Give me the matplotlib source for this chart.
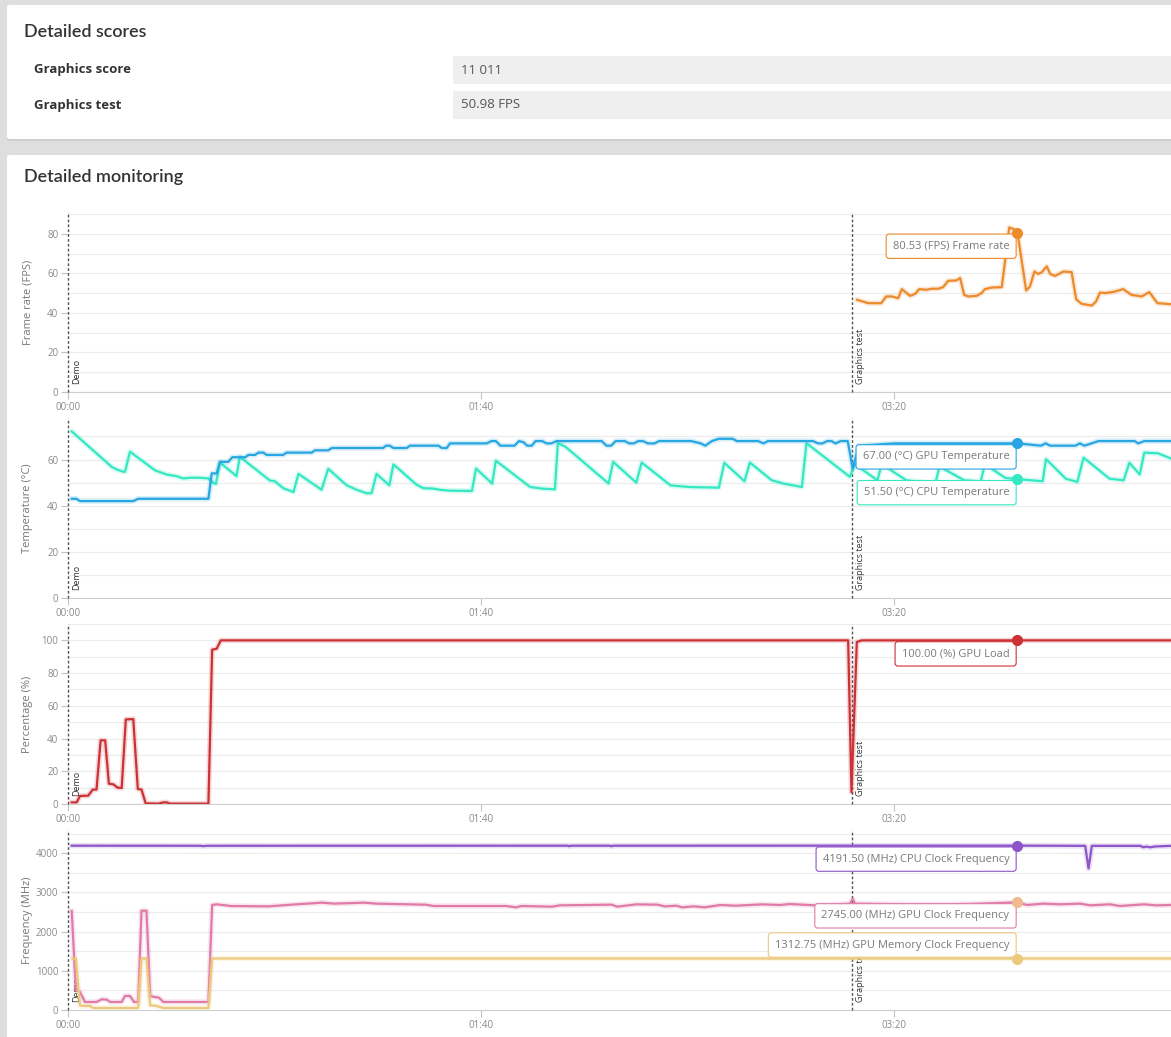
import numpy as np
import matplotlib
matplotlib.use('Agg')
import matplotlib.pyplot as plt
from matplotlib.patches import FancyBboxPatch, Rectangle
from matplotlib.ticker import FuncFormatter, MultipleLocator

plt.rcParams['font.family'] = ['Open Sans', 'DejaVu Sans']

W, H = 1171, 1037

# scores table
score_names = ['Graphics score', 'Graphics test']
score_values = ['11 011', '50.98 FPS']

# time axis in seconds
x_end = 267.07
test_starts = [0, 189.8]
test_names = ['Demo', 'Graphics test']
hover_t = 229.9

# (seconds, value)
fps_pts = [(191.1, 46.6), (193.8, 44.9), (195.4, 44.9), (196.9, 44.9), (198.1, 48.3), (199.5, 48.3),
           (201.0, 47.4), (201.9, 52.0), (203.9, 48.6), (205.1, 49.6), (206.1, 52.0), (207.9, 51.7),
           (209.1, 52.2), (210.7, 52.2), (211.9, 53.0), (213.1, 56.2), (215.1, 56.4), (216.0, 57.6),
           (217.0, 49.1), (218.0, 48.3), (220.0, 48.6), (221.2, 50.0), (222.0, 52.0), (223.6, 52.8),
           (226.1, 53.0), (227.9, 83.2), (228.9, 82.4), (229.9, 80.53), (232.0, 51.3), (232.9, 53.3),
           (234.0, 60.9), (234.9, 59.7), (235.7, 60.4), (237.0, 63.5), (237.8, 59.7), (239.0, 58.7),
           (241.0, 60.9), (243.0, 60.6), (244.1, 46.9), (245.4, 44.6), (247.9, 43.7), (248.9, 45.7),
           (249.9, 50.3), (251.1, 50.0), (253.1, 50.6), (255.5, 52.0), (257.5, 49.1), (260.0, 48.3),
           (261.8, 50.5), (263.8, 44.9), (267.1, 44.4)]

gpu_temp_pts = [(0.9, 43), (2.0, 43), (2.9, 42), (15.8, 42), (17.0, 43), (34.0, 43), (34.8, 54), (36.0, 54),
                (36.8, 59), (38.8, 59), (39.8, 61), (42.9, 61), (43.7, 62), (45.3, 62), (46.1, 63), (47.3, 63),
                (48.1, 62), (52.1, 62), (52.9, 63), (59.0, 63), (59.8, 64), (63.0, 64), (63.9, 65), (76.3, 65),
                (77.0, 66), (77.9, 66), (78.8, 65), (82.0, 65), (82.8, 66), (89.7, 66), (90.5, 65), (91.7, 65),
                (92.5, 67), (101.4, 67), (102.5, 68), (103.6, 68), (104.7, 66), (108.1, 66), (109.2, 68),
                (110.3, 67.5), (111.2, 66), (112.3, 66), (113.2, 68), (114.8, 68), (115.9, 67), (117.0, 67),
                (118.3, 68), (129.2, 68), (130.4, 66), (131.5, 66), (132.6, 68), (134.8, 68), (135.9, 67),
                (137.0, 67), (138.1, 68), (139.2, 68), (140.4, 67), (142.0, 67), (143.1, 68), (150.9, 68),
                (153.2, 67), (154.3, 66), (155.9, 68), (157.6, 69), (160.9, 69), (162.0, 68), (167.1, 68),
                (168.4, 67), (169.5, 68), (180.4, 68), (181.6, 67), (182.7, 67), (183.8, 68), (184.9, 68),
                (185.8, 67), (187.1, 68), (188.8, 68), (190.0, 56), (191.5, 66), (200.0, 67), (210.0, 67),
                (220.0, 67), (229.9, 67.0), (235.6, 66), (236.7, 67), (237.8, 66), (243.9, 66), (245.0, 67),
                (246.1, 66), (249.5, 68), (258.3, 68), (259.1, 67), (260.6, 68), (267.1, 68)]

cpu_temp_pts = [(0.9, 72.2), (10.6, 56.8), (11.8, 55.7), (13.4, 54.7), (13.8, 54.7), (15.0, 63.4), (21.1, 55.3),
                (23.9, 53.5), (26.3, 52.8), (27.9, 51.8), (29.5, 52.1), (32.0, 52.1), (34.0, 51.8), (35.2, 49.9),
                (35.8, 49.4), (36.8, 58.7), (40.8, 52.8), (41.6, 61.2), (48.9, 50.9), (50.1, 50.6), (52.1, 47.6),
                (54.6, 45.9), (55.8, 53.8), (61.4, 46.9), (63.0, 56.0), (67.5, 48.8), (69.9, 46.9), (72.3, 45.4),
                (73.5, 45.4), (74.7, 53.8), (77.8, 48.8), (78.8, 57.9), (84.4, 49.1), (86.0, 47.6), (88.5, 47.4),
                (90.1, 46.9), (92.5, 46.5), (97.8, 46.4), (98.8, 56.1), (102.7, 49.6), (103.6, 59.5),
                (111.9, 48.1), (114.8, 47.4), (117.9, 47.1), (118.6, 67.1), (120.4, 65.6), (130.9, 49.6),
                (132.0, 59.0), (137.6, 50.0), (138.9, 58.7), (145.9, 48.8), (150.4, 48.1), (157.6, 47.8),
                (158.9, 58.6), (163.8, 50.6), (165.1, 58.7), (170.4, 51.0), (173.2, 49.6), (177.7, 48.1),
                (178.8, 67.1), (189.3, 52.5), (190.5, 58), (196, 51), (197, 58), (203, 51), (210, 49.5),
                (211, 57), (217, 51), (221, 50.5), (222, 58), (227, 52), (229.9, 51.5), (236.0, 50.6),
                (236.8, 60.2), (241.6, 51.7), (244.4, 50.3), (245.9, 60.8), (252.2, 51.7), (255.6, 51.0),
                (257.0, 58.6), (259.5, 53.5), (260.6, 63.0), (263.9, 62.7), (267.0, 60.5)]

gpu_load_pts = [(0.9, 1), (2.1, 1), (2.9, 4.9), (4.9, 5.1), (6.0, 8.8), (6.9, 8.8), (7.9, 38.9), (9.0, 38.9),
                (9.9, 12.4), (11.0, 12.0), (12.0, 10.0), (13.0, 9.8), (14.0, 51.7), (15.8, 51.9), (16.9, 9.2),
                (17.8, 8.8), (18.8, 0.4), (21.9, 0.2), (23.1, 1.0), (23.9, 1.0), (24.7, 0.2), (34.0, 0.2),
                (34.9, 94.3), (36.0, 94.9), (37.0, 100), (188.9, 100), (189.7, 7.3), (191.0, 99), (192.2, 100),
                (229.9, 100), (267.1, 100)]

cpu_clk_pts = [(0.9, 4190), (32.0, 4188), (32.8, 4178), (33.6, 4188), (121.0, 4190), (121.4, 4175),
               (121.8, 4190), (131.2, 4190), (131.6, 4176), (132.0, 4190), (229.9, 4191.5), (246.3, 4186),
               (247.1, 3610), (247.9, 4186), (259.6, 4186), (260.4, 4150), (261.2, 4168), (262.0, 4148),
               (263.2, 4170), (267.1, 4186)]

gpu_clk_pts = [(0.9, 2525), (1.9, 503), (2.9, 460), (4.1, 205), (6.9, 205), (8.2, 273), (9.4, 264), (10.2, 205),
               (13.0, 205), (13.8, 358), (15.0, 358), (16.0, 205), (17.0, 205), (17.8, 2533), (19.0, 2533),
               (19.9, 358), (20.8, 333), (22.0, 316), (23.1, 205), (34.0, 205), (34.9, 2678), (36.0, 2695),
               (39.4, 2652), (48.6, 2643), (55.1, 2694), (61.6, 2737), (64.4, 2712), (71.8, 2737), (74.6, 2712),
               (86.6, 2686), (88.5, 2652), (106.1, 2652), (108.4, 2618), (109.8, 2652), (117.2, 2635),
               (119.1, 2669), (131.6, 2686), (133.0, 2635), (137.6, 2694), (142.7, 2686), (144.5, 2643),
               (147.3, 2660), (148.7, 2618), (151.5, 2643), (154.2, 2618), (157.9, 2677), (161.7, 2660),
               (168.1, 2694), (172.4, 2678), (174.8, 2703), (180.9, 2669), (189.3, 2712), (190.0, 2831),
               (190.6, 2712), (200, 2700), (210, 2690), (220, 2710), (229.9, 2745), (232.2, 2678),
               (236.2, 2712), (240.2, 2695), (245.1, 2712), (247.5, 2669), (252.3, 2695), (254.7, 2652),
               (260.4, 2695), (263.6, 2669), (267.1, 2678)]

mem_clk_pts = [(1.1, 1314), (1.9, 1314), (2.9, 119), (3.7, 102), (5.3, 102), (6.1, 51), (17.0, 51), (17.8, 1314),
               (19.0, 1314), (19.9, 119), (21.5, 102), (23.1, 51), (34.0, 51), (34.9, 1312.75),
               (229.9, 1312.75), (267.1, 1312.75)]

# (points, line colour, marker colour, tooltip text, tooltip above marker?)
panels = [
    ('Frame rate (FPS)', 91, 20, 10, [
        (fps_pts, '#ec8a2c', '#ec8a2c', '80.53 (FPS) Frame rate', False)]),
    ('Temperature (°C)', 78, 20, 10, [
        (cpu_temp_pts, '#34e8c2', '#34e8c2', '51.50 (°C) CPU Temperature', False),
        (gpu_temp_pts, '#27a6e2', '#27a6e2', '67.00 (°C) GPU Temperature', False)]),
    ('Percentage (%)', 110, 20, 10, [
        (gpu_load_pts, '#cc3136', '#cc3136', '100.00 (%) GPU Load', False)]),
    ('Frequency (MHz)', 4590, 1000, 500, [
        (cpu_clk_pts, '#8e55c9', '#8e55c9', '4191.50 (MHz) CPU Clock Frequency', False),
        (gpu_clk_pts, '#e07ba9', '#efbb8e', '2745.00 (MHz) GPU Clock Frequency', False),
        (mem_clk_pts, '#ecc97d', '#ecc97d', '1312.75 (MHz) GPU Memory Clock Frequency', True)]),
]
panel_bottoms = [392, 598, 804, 1010]
panel_height = 180

fig = plt.figure(figsize=(W / 100, H / 100), dpi=100)
fig.patch.set_facecolor('#dedede')


def card(y0, y1):
    fig.add_artist(Rectangle((7 / W, 1 - (y1 + 2) / H), 1.0, (y1 - y0) / H,
                             transform=fig.transFigure, fc='#cfcfcf', ec='none', zorder=0))
    fig.add_artist(FancyBboxPatch((7 / W, 1 - y1 / H), 1.0, (y1 - y0) / H,
                                  boxstyle='round,pad=0,rounding_size=0.002',
                                  transform=fig.transFigure, fc='white', ec='none', zorder=0))


card(5, 139)
card(155, 1045)

fig.text(24 / W, 1 - 32 / H, 'Detailed scores', family=['Lato', 'DejaVu Sans'], fontsize=13,
         fontweight='semibold', color='#333333', va='center')
fig.text(24 / W, 1 - 177 / H, 'Detailed monitoring', family=['Lato', 'DejaVu Sans'], fontsize=13,
         fontweight='semibold', color='#333333', va='center')

for i, (name, val) in enumerate(zip(score_names, score_values)):
    yc = 70 + 35 * i
    fig.add_artist(Rectangle((453 / W, 1 - (yc + 14) / H), 1.0, 28 / H,
                             transform=fig.transFigure, fc='#efefef', ec='none', zorder=1))
    fig.text(34 / W, 1 - yc / H, name, fontsize=9.5, fontweight='bold', color='#333333', va='center')
    fig.text(461 / W, 1 - yc / H, val, fontsize=9.5, color='#555555', va='center')


def mmss(v, pos):
    v = int(round(v))
    return f'{v // 60:02d}:{v % 60:02d}'


for (ylabel, ymax, major, minor, series), bottom in zip(panels, panel_bottoms):
    ax = fig.add_axes([68 / W, 1 - bottom / H, (W - 68) / W, panel_height / H])
    ax.set_facecolor('none')
    ax.set_xlim(0, x_end)
    ax.set_ylim(0, ymax)
    ax.xaxis.set_major_locator(MultipleLocator(100))
    ax.xaxis.set_major_formatter(FuncFormatter(mmss))
    ax.yaxis.set_major_locator(MultipleLocator(major))
    ax.yaxis.set_minor_locator(MultipleLocator(minor))
    ax.grid(True, which='both', axis='y', color='#ececec', lw=0.8)
    ax.set_axisbelow(True)
    ax.tick_params(which='major', length=5, width=0.8, color='#c4c4c4',
                   labelsize=7, labelcolor='#8a8a8a', pad=2)
    ax.tick_params(which='minor', length=0)
    for s in ['top', 'right', 'left']:
        ax.spines[s].set_visible(False)
    ax.spines['bottom'].set_color('#cfcfcf')
    ax.set_ylabel(ylabel, fontsize=8, color='#777777')
    ax.yaxis.set_label_coords(-0.0317, 0.5)

    for t0, tname in zip(test_starts, test_names):
        ax.axvline(t0, color='#555555', lw=1, ls=(0, (2, 1.5)), zorder=3, clip_on=False)
        ax.annotate(tname, xy=(t0, 0), xycoords=('data', 'axes fraction'), xytext=(4, 8),
                    textcoords='offset pixels', rotation=90, ha='left', va='bottom',
                    fontsize=6.5, color='#333333', zorder=2)

    for pts, color, mcolor, label, above in series:
        t = [p[0] for p in pts]
        v = [p[1] for p in pts]
        ax.plot(t, v, color=color, lw=4, alpha=0.18, zorder=4, solid_joinstyle='round')
        ax.plot(t, v, color=color, lw=1.6, zorder=4, solid_joinstyle='round')
        hv = np.interp(hover_t, t, v)
        ax.plot([hover_t], [hv], 'o', color=mcolor, ms=7, zorder=8, clip_on=False)
        dy = 13.5 if above else -13.5
        ax.annotate(label, xy=(hover_t, hv), xytext=(-8, dy), textcoords='offset pixels',
                    ha='right', va='center', fontsize=8, color='#7a7a7a', zorder=7,
                    bbox=dict(boxstyle='round,pad=0.6,rounding_size=0.25', fc='white', ec=color, lw=0.8))

fig.savefig('out.png', dpi=100, facecolor=fig.get_facecolor())
